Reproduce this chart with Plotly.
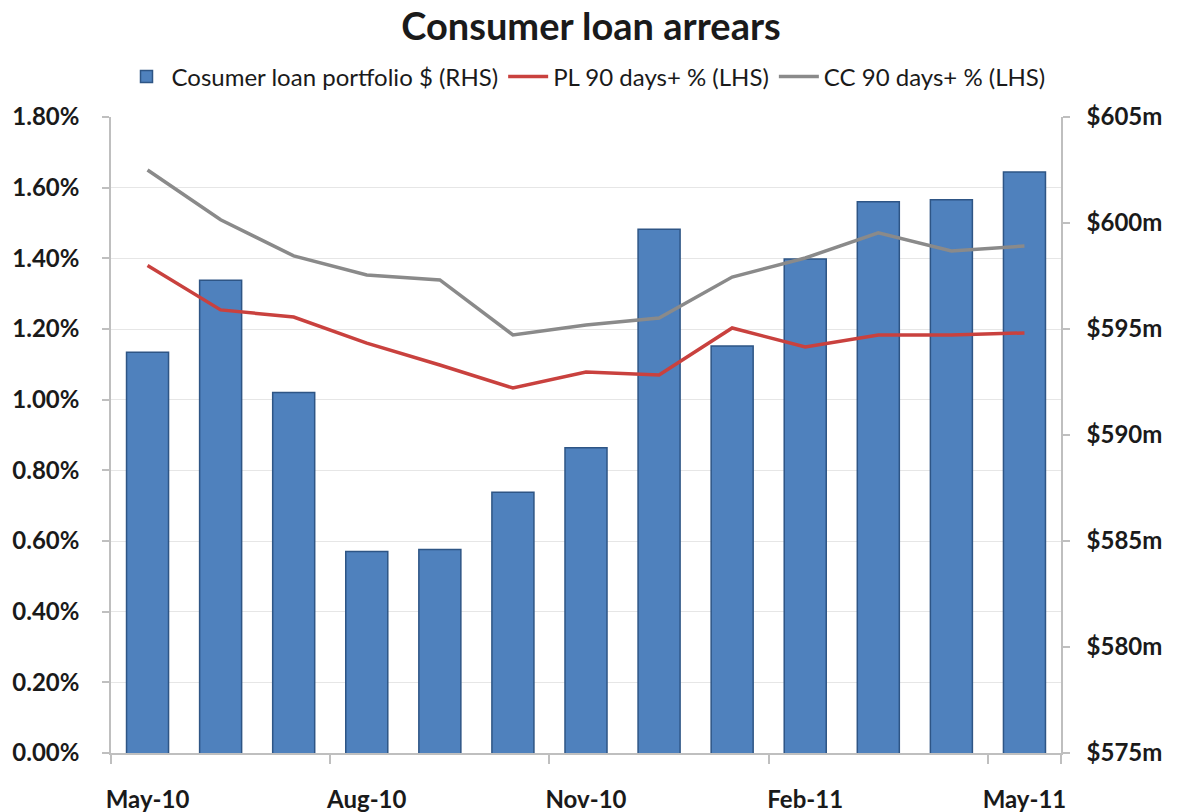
import plotly.graph_objects as go

# Monthly observations, May-10 to May-11
months = ["May-10", "Jun-10", "Jul-10", "Aug-10", "Sep-10", "Oct-10", "Nov-10",
          "Dec-10", "Jan-11", "Feb-11", "Mar-11", "Apr-11", "May-11"]

# Consumer loan portfolio, $m (right-hand axis)
portfolio_m = [593.9, 597.3, 592.0, 584.5, 584.6, 587.3, 589.4,
               599.7, 594.2, 598.3, 601.0, 601.1, 602.4]

# 90 days+ arrears, % of book (left-hand axis)
pl_90 = [1.38, 1.254, 1.234, 1.160, 1.098, 1.033, 1.078,
         1.070, 1.203, 1.149, 1.183, 1.183, 1.189]
cc_90 = [1.650, 1.509, 1.407, 1.353, 1.339, 1.183, 1.211,
         1.231, 1.347, 1.401, 1.472, 1.421, 1.435]

pct_ticks = [i * 0.2 for i in range(10)]
usd_ticks = [575, 580, 585, 590, 595, 600, 605]

FONT = "Lato"
AXIS_GREY = "#BFBFBF"
GRID_GREY = "#E6E6E6"
TEXT = "#1A1A1A"
TICK_FONT = dict(size=24, family=FONT, color=TEXT, weight="bold")

fig = go.Figure()

fig.add_trace(go.Bar(
    x=months, y=portfolio_m, name="Cosumer loan portfolio $ (RHS)",
    marker=dict(color="#4F81BD", line=dict(color="#2E5585", width=1.5)),
    yaxis="y", xaxis="x",
))
fig.add_trace(go.Scatter(
    x=months, y=pl_90, name="PL 90 days+ % (LHS)", mode="lines",
    line=dict(color="#C9413E", width=3.5), yaxis="y2", xaxis="x",
))
fig.add_trace(go.Scatter(
    x=months, y=cc_90, name="CC 90 days+ % (LHS)", mode="lines",
    line=dict(color="#8A8A8A", width=3.5), yaxis="y2", xaxis="x",
))

n = len(months)

fig.update_layout(
    width=1182, height=812,
    margin=dict(l=111, r=121, t=117, b=59),
    paper_bgcolor="white", plot_bgcolor="white",
    font=dict(family=FONT, color=TEXT),
    title=dict(text="<b>Consumer loan arrears</b>", x=0.5, xanchor="center",
               y=0.967, yanchor="middle", font=dict(size=38, family=FONT, color=TEXT)),
    showlegend=True,
    legend=dict(orientation="h", x=0.5, xanchor="center", y=1.063, yanchor="middle",
                font=dict(size=24, family=FONT, color=TEXT),
                itemwidth=40, tracegroupgap=0, bgcolor="rgba(0,0,0,0)"),
    bargap=0.425,
    xaxis=dict(
        type="category", categoryorder="array", categoryarray=months,
        tickmode="array", tickvals=months[::3], ticktext=months[::3],
        tickson="boundaries", ticks="outside", ticklen=9, tickangle=0,
        tickcolor=AXIS_GREY, tickwidth=1.5, automargin=False,
        showline=True, linecolor=AXIS_GREY, linewidth=1.5,
        showgrid=False, ticklabelstandoff=24,
        tickfont=TICK_FONT, range=[-0.5, n - 0.5],
    ),
    yaxis=dict(
        side="right", range=[575, 605], tickmode="array", tickvals=usd_ticks,
        ticktext=[f"${v}m" for v in usd_ticks], ticks="outside", ticklen=7,
        tickcolor=AXIS_GREY, tickwidth=1.5, showline=True, linecolor=AXIS_GREY,
        linewidth=1.5, showgrid=False, zeroline=False, ticklabelstandoff=12,
        tickfont=TICK_FONT, automargin=False,
    ),
    yaxis2=dict(
        overlaying="y", side="left", range=[0, 1.8], tickmode="array",
        tickvals=pct_ticks, ticktext=[f"{v:.2f}%" for v in pct_ticks],
        ticks="outside", ticklen=7, tickcolor=AXIS_GREY, tickwidth=1.5,
        showline=True, linecolor=AXIS_GREY, linewidth=1.5,
        showgrid=True, gridcolor=GRID_GREY, gridwidth=1.2, zeroline=False,
        ticklabelstandoff=18, tickfont=TICK_FONT, automargin=False,
    ),
)

fig.write_html("out.html")
